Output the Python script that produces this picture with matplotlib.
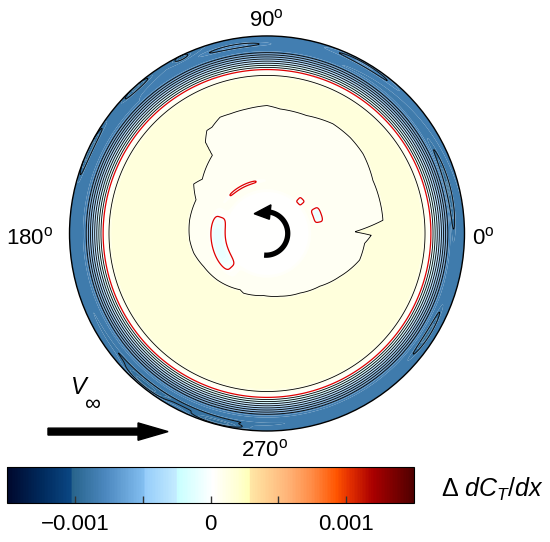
import numpy as np
import matplotlib
matplotlib.use('Agg')
import matplotlib.pyplot as plt
from matplotlib.colors import LinearSegmentedColormap, Normalize
from matplotlib.cm import ScalarMappable
from matplotlib.patches import Circle, Polygon

plt.rcParams['font.family'] = 'Liberation Sans'
plt.rcParams['mathtext.fontset'] = 'custom'
plt.rcParams['mathtext.rm'] = 'Liberation Sans'
plt.rcParams['mathtext.it'] = 'Liberation Sans:italic'
plt.rcParams['mathtext.bf'] = 'Liberation Sans:bold'
plt.rcParams['contour.negative_linestyle'] = 'solid'

# field values are in units of 1e-4
# radial profile of the outer ring
ring_r = [0.0, 0.785, 0.80, 0.83, 0.915, 0.93, 1.0]
ring_v = [1.7, 1.7, 1.0, 0.0, -8.0, -8.5, -8.5]

# outline of the central low region (angle in degrees, radius)
blob_deg = [1.1, 6.5, 16.4, 26.6, 39.7, 49, 59, 71.5, 84, 90, 99, 107, 112,
            117.4, 120.3, 124, 125, 140, 146, 154.6, 170, 185, 195, 207.6,
            223, 244.5, 248.5, 267, 282, 299, 315, 329.3, 344, 354.2, 359]
blob_r = [0.446, 0.593, 0.597, 0.602, 0.634, 0.645, 0.65, 0.632, 0.636, 0.65,
          0.641, 0.636, 0.637, 0.608, 0.606, 0.56, 0.485, 0.43, 0.45, 0.40,
          0.40, 0.395, 0.386, 0.364, 0.347, 0.318, 0.327, 0.317, 0.327, 0.347,
          0.38, 0.43, 0.49, 0.499, 0.53]
blob_val = 0.6
core_r = 0.215
core_val = 0.1

# small negative patches next to the core
patch_deg = [192, 20, 118, 44]
patch_span = [32, 8, 22, 5]
patch_r = [0.25, 0.27, 0.268, 0.235]
patch_dr = [0.035, 0.022, 0.008, 0.02]
patch_val = [-0.9, -0.8, -0.2, -0.2]

# darker / lighter streaks inside the blue ring
streak_deg = [14, -32, 231, 255, 132, 155, 116, 240, 100, 60]
streak_span = [13, 8, 8, 8, 5, 8, 2.5, 35, 10, 12]
streak_r = [0.945, 0.96, 0.982, 0.986, 0.99, 0.99, 0.99, 0.965, 0.96, 0.985]
streak_amp = [-1.3, -1.2, -1.1, -1.2, -1.1, -1.2, -1.0, -0.7, 0.9, 0.8]

levels_fill = np.arange(-15, 15.01, 0.25) * 1e-4
levels_line = np.array([k for k in range(-15, 16) if k != 0]) * 1e-4

cmap = LinearSegmentedColormap.from_list('dct', [
    (0.00, (0/255, 8/255, 45/255)),
    (0.08, (0/255, 40/255, 90/255)),
    (0.155, (10/255, 70/255, 130/255)),
    (0.16, (40/255, 100/255, 140/255)),
    (0.24, (75/255, 135/255, 190/255)),
    (0.335, (130/255, 190/255, 240/255)),
    (0.34, (150/255, 205/255, 250/255)),
    (0.415, (195/255, 235/255, 255/255)),
    (0.42, (200/255, 255/255, 255/255)),
    (0.505, (1.0, 1.0, 1.0)),
    (0.567, (1.0, 1.0, 210/255)),
    (0.595, (1.0, 1.0, 185/255)),
    (0.60, (1.0, 230/255, 165/255)),
    (0.69, (1.0, 180/255, 120/255)),
    (0.75, (1.0, 140/255, 70/255)),
    (0.81, (1.0, 85/255, 0.0)),
    (0.84, (230/255, 50/255, 0.0)),
    (0.90, (170/255, 0.0, 0.0)),
    (1.00, (80/255, 0.0, 0.0)),
])
norm = Normalize(-0.0015, 0.0015)

# build the field on a polar grid
r = np.linspace(0, 1, 500)
th = np.linspace(0, 2 * np.pi, 1441)
R, TH = np.meshgrid(r, th)
deg = np.degrees(TH)


def dang(a, b):
    return (a - b + 180) % 360 - 180


Z = np.interp(R, ring_r, ring_v)
rb = np.interp(deg, blob_deg, blob_r, period=360)
w = 1 / (1 + np.exp((R - rb) / 0.004))
Z = Z - w * (ring_v[0] - blob_val)
wc = 1 / (1 + np.exp((R - core_r) / 0.006))
Z = Z - wc * (blob_val - core_val)
for d, s, rc, dr, v in zip(patch_deg, patch_span, patch_r, patch_dr, patch_val):
    g = np.exp(-(dang(deg, d) / s) ** 4 - ((R - rc) / dr) ** 4)
    Z = Z * (1 - g) + v * g
for d, s, rc, a in zip(streak_deg, streak_span, streak_r, streak_amp):
    Z = Z + a * np.exp(-(dang(deg, d) / s) ** 2 - ((R - rc) / 0.012) ** 2)
Z = Z * 1e-4
X = R * np.cos(TH)
Y = R * np.sin(TH)

fig = plt.figure(figsize=(5.5, 5.42), dpi=100)
ax = fig.add_axes([0, 0, 1, 1])
ax.set_xlim(-1.352, 1.433)
ax.set_ylim(-1.562, 1.182)
ax.axis('off')

ax.contourf(X, Y, Z, levels=levels_fill, cmap=cmap, norm=norm, antialiased=True)
ax.contour(X, Y, Z, levels=levels_line, colors='k', linewidths=0.6,
           linestyles='solid')
ax.contour(X, Y, Z, levels=[0.0], colors='#e00000', linewidths=0.9)
ax.add_patch(Circle((0, 0), 1.0, fill=False, ec='k', lw=1.0))

# rotation arrow in the centre
t = np.radians(np.linspace(-95, 92, 80))
ax.plot(-0.005 + 0.11 * np.cos(t), 0.11 * np.sin(t), color='k', lw=3.8,
        solid_capstyle='butt')
ax.add_patch(Polygon([(-0.065, 0.10), (0.02, 0.145), (0.012, 0.072)],
                     closed=True, fc='k', ec='k'))

# angle labels
ax.text(-0.005, 1.081, r'90$^{\mathrm{o}}$', ha='center', va='center', fontsize=16)
ax.text(-1.203, -0.023, r'180$^{\mathrm{o}}$', ha='center', va='center', fontsize=16)
ax.text(1.040, -0.023, r'0$^{\mathrm{o}}$', ha='left', va='center', fontsize=16)
ax.text(-0.01, -1.096, r'270$^{\mathrm{o}}$', ha='center', va='center', fontsize=16)

# free stream
ax.text(-0.995, -0.782, 'V', style='italic', ha='left', va='center', fontsize=17)
ax.text(-0.925, -0.868, '\u221e', ha='left', va='center', fontsize=16)
ax.arrow(-1.109, -1.003, 0.608, 0, width=0.035, head_width=0.088,
         head_length=0.152, length_includes_head=True, fc='k', ec='k')

# colour bar
cax = fig.add_axes([7 / 550, 39 / 542, 407 / 550, 36 / 542])
cb = fig.colorbar(ScalarMappable(norm=norm, cmap=cmap), cax=cax, orientation='horizontal')
cb.set_ticks([-0.001, 0, 0.001])
cb.set_ticklabels(['\u22120.001', '0', '0.001'])
cb.ax.set_xticks([-0.0005, 0.0005], minor=True)
cb.ax.tick_params(which='both', direction='in', length=5, width=1, color='#333333',
                  labelsize=16, pad=8)
cb.outline.set_linewidth(0.8)
fig.text(441 / 550, 1 - 489 / 542, r'$\Delta\ dC_{T}/dx$', ha='left', va='center',
         fontsize=18)

fig.savefig('out.png', dpi=100)
